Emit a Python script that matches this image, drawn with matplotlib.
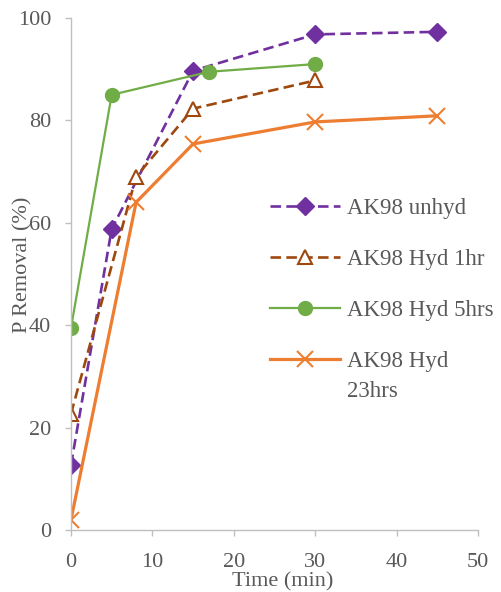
import matplotlib as mpl
import matplotlib.pyplot as plt

# -------------------- Data --------------------
TIME_UNHYD = [0, 5, 15, 30, 45]
REMOVAL_UNHYD = [12.7, 58.8, 89.7, 96.8, 97.3]

TIME_HYD1 = [0, 8, 15, 30]
REMOVAL_HYD1 = [22.7, 69.0, 82.3, 87.8]

TIME_HYD5 = [0, 5, 17, 30]
REMOVAL_HYD5 = [39.5, 85.0, 89.5, 91.0]

TIME_HYD23 = [0, 8, 15, 30, 45]
REMOVAL_HYD23 = [2.0, 64.0, 75.4, 79.7, 80.9]

X_TICKS = [0, 10, 20, 30, 40, 50]
Y_TICKS = [0, 20, 40, 60, 80, 100]

# -------------------- Style --------------------
mpl.rcParams["font.family"] = "Liberation Serif"
mpl.rcParams["font.size"] = 16
TEXT_GREY = "#595959"
AXIS_GREY = "#BFBFBF"

fig = plt.figure(figsize=(5.01, 5.92), dpi=100)
ax = fig.add_axes([0.1417, 0.1047, 0.8123, 0.8649])

ax.plot(TIME_UNHYD, REMOVAL_UNHYD, color="#7030A0", lw=1.9, ls=(0, (4, 2)),
        marker="D", ms=9, label="AK98 unhyd")
ax.plot(TIME_HYD1, REMOVAL_HYD1, color="#9E480E", lw=1.9, ls=(0, (4, 2)),
        marker="^", ms=10.5, mfc="white", mec="#9E480E", mew=1.5, label="AK98 Hyd 1hr")
ax.plot(TIME_HYD5, REMOVAL_HYD5, color="#70AD47", lw=1.6,
        marker="o", ms=10, label="AK98 Hyd 5hrs")
ax.plot(TIME_HYD23, REMOVAL_HYD23, color="#ED7D31", lw=2.3,
        marker="x", ms=11, mew=1.5, label="AK98 Hyd")

ax.set_xlim(0, 50)
ax.set_ylim(0, 100)
ax.set_xticks(X_TICKS)
ax.set_yticks(Y_TICKS)

for side in ["top", "right"]:
    ax.spines[side].set_visible(False)
for side in ["left", "bottom"]:
    ax.spines[side].set_color(AXIS_GREY)
    ax.spines[side].set_linewidth(1.0)

ax.tick_params(axis="both", colors=AXIS_GREY, labelcolor=TEXT_GREY,
               labelsize=16, length=4.3, width=1.0, direction="out")
ax.tick_params(axis="x", pad=12)
ax.tick_params(axis="y", pad=10)

ax.set_xlabel("Time (min)", color=TEXT_GREY, fontsize=16)
ax.set_ylabel("P Removal (%)", color=TEXT_GREY, fontsize=16)
ax.xaxis.set_label_coords(0.52, -0.083)
ax.yaxis.set_label_coords(-0.094, 0.518)

leg = ax.legend(loc="upper left", bbox_to_anchor=(0.489, 0.648), frameon=False,
                fontsize=16.5, handlelength=3.05, handletextpad=0.3,
                labelspacing=1.3, borderpad=0, borderaxespad=0)
for t in leg.get_texts():
    t.set_color(TEXT_GREY)

# second line of the last legend entry
ax.annotate("23hrs", xy=(0, 0), xycoords=leg.get_texts()[-1],
            xytext=(0, -9), textcoords="offset pixels",
            ha="left", va="top", fontsize=16.5, color=TEXT_GREY, zorder=6)

fig.savefig("out.png", dpi=100)
